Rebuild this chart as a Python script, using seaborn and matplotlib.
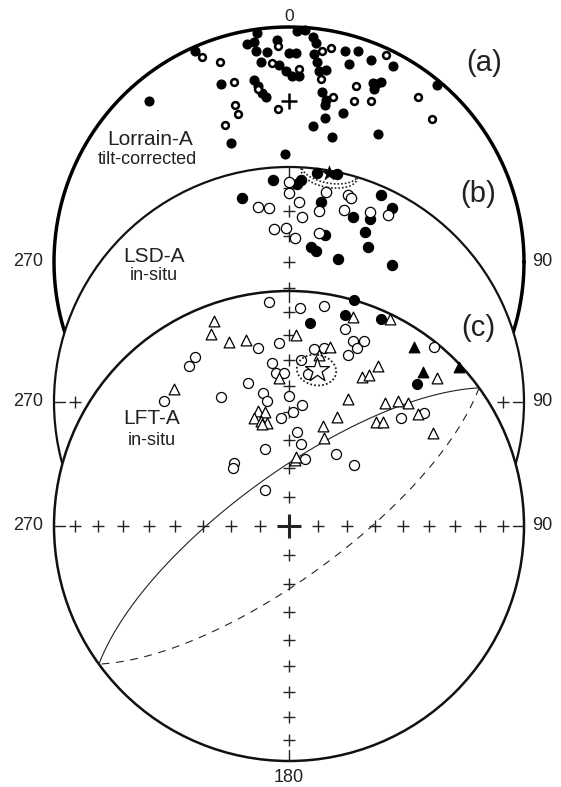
import numpy as np
import pandas as pd
import matplotlib
matplotlib.use("Agg")
import matplotlib.pyplot as plt
from matplotlib.patches import Circle
import seaborn as sns

sns.set_style("white")
plt.rcParams['font.family'] = ['Liberation Sans', 'DejaVu Sans']

# ---------------- data (declination, inclination; negative inc = upper hemisphere / open symbol)
# (a) Lorrain-A tilt-corrected
a_fill_dec = [336, 352, 349, 351, 351, 352, 354, 357, 357, 0, 2, 2, 4, 6, 7, 7, 359, 1, 3, 8, 11, 9,
              15, 18, 17, 22, 26, 26, 27, 25, 28, 339, 349, 350, 351, 352, 11, 13, 13, 20, 14, 10,
              19, 334, 358, 35, 40, 319]
a_fill_inc = [2, 2, 6, 6, 10, 15, 11, 6, 17, 12, 12, 2, 1, 4, 7, 12, 20, 22, 22, 15, 18, 19,
              8, 6, 13, 8, 17, 19, 15, 17, 6, 20, 22, 25, 28, 30, 27, 30, 32, 33, 37, 41,
              43, 43, 52, 34, 2, 10]
a_open_dec = [337, 341, 343, 341, 341, 335, 350, 355, 357, 3, 9, 11, 10, 15, 356, 25, 21, 22, 27, 38, 45]
a_open_inc = [-6, -11, -21, -30, -34, -36, -26, -16, -9, -19, -10, -8, -22, -28, -35, -3, -21, -27, -24, -12, -15]
a_mark_dec, a_mark_inc = [0], [32]

# (b) LSD-A in-situ
b_fill_dec = [356, 347, 3, 2, 7, 12, 9, 24, 28, 19, 24, 24, 12, 8, 10, 27, 19, 37]
b_fill_inc = [6, 12, 6, 8, 2, 1, 15, 4, 7, 18, 16, 22, 28, 34, 35, 27, 36, 28]
b_open_dec = [0, 0, 10, 16, 17, 351, 354, 3, 9, 4, 16, 23, 28, 355, 359, 2, 10]
b_open_inc = [-7, -12, -10, -9, -10, -17, -18, -16, -19, -22, -16, -13, -11, -27, -27, -31, -28]
b_mean_dec, b_mean_inc, b_a95 = 10, 1, 7

# (c) LFT-A in-situ
c_open_dec = [355, 3, 9, 350, 357, 331, 328, 354, 355, 358, 344, 332, 315, 349, 350, 0, 356, 2,
              343, 319, 316, 326, 16, 19, 21, 22, 19, 8, 11, 39, 7, 4, 6, 46, 50, 5, 8, 33, 13, 47]
c_open_inc = [-5, -8, -6, -24, -23, -19, -21, -31, -35, -35, -37, -38, -26, -42, -45, -44, -52, -50,
              -62, -61, -62, -75, -14, -18, -20, -16, -24, -25, -24, -2, -35, -30, -47, -34, -26, -57, -61, -60, -66, -59]
c_fill_dec = [16, 6, 15, 24, 42]
c_fill_inc = [0, 14, 8, 4, 20]
c_tri_fill_dec = [35, 41, 47]
c_tri_fill_inc = [8, 14, 1]
c_tri_open_dec = [340, 338, 342, 347, 320, 2, 356, 345, 348, 342, 345, 348, 345, 5, 17, 26, 13, 10,
                  29, 26, 28, 45, 25, 38, 41, 44, 24, 40, 42, 49, 57, 19, 22, 6]
c_tri_open_inc = [-8, -13, -19, -20, -25, -20, -37, -48, -49, -50, -52, -53, -53, -67, -8, -2, -23, -27,
                  -23, -30, -28, -12, -40, -34, -30, -28, -48, -42, -40, -28, -28, -53, -57, -66]
c_mean_dec, c_mean_inc, c_a95 = 10, -33, 6
c_plane_dipdir, c_plane_dip = 324, 72

tick_incs = [10, 20, 30, 40, 50, 60, 70, 80]

# ---------------- geometry helpers
W, H, RPX, CX, CY = 561, 787, 235.0, 289, 526
net_off = {'a': (526 - 262) / RPX, 'b': (526 - 402) / RPX, 'c': 0.0}


def P(x, y):
    return (x - CX) / RPX, (CY - y) / RPX


def proj(dec, inc, net):
    dec = np.radians(np.asarray(dec, float))
    inc = np.abs(np.asarray(inc, float))
    r = np.sqrt(2) * np.sin(np.radians(90 - inc) / 2)
    return r * np.sin(dec), r * np.cos(dec) + net_off[net]


def vec2di(v):
    dec = np.degrees(np.arctan2(v[:, 1], v[:, 0]))
    inc = np.degrees(np.arcsin(np.clip(v[:, 2], -1, 1)))
    return dec, inc


def cone(dec, inc, a, n=200):
    d, i, a = np.radians(dec), np.radians(inc), np.radians(a)
    m = np.array([np.cos(i) * np.cos(d), np.cos(i) * np.sin(d), np.sin(i)])
    u = np.array([-np.sin(i) * np.cos(d), -np.sin(i) * np.sin(d), np.cos(i)])
    w = np.cross(m, u)
    ph = np.linspace(0, 2 * np.pi, n)
    v = np.cos(a) * m + np.sin(a) * (np.outer(np.cos(ph), u) + np.outer(np.sin(ph), w))
    return vec2di(v)


def plane(dipdir, dip, n=300):
    dd, dp = np.radians(dipdir), np.radians(dip)
    s = np.array([np.cos(dd - np.pi / 2), np.sin(dd - np.pi / 2), 0.0])
    d = np.array([np.cos(dp) * np.cos(dd), np.cos(dp) * np.sin(dd), np.sin(dp)])
    t = np.linspace(0, np.pi, n)
    return np.outer(np.cos(t), s) + np.outer(np.sin(t), d)


def scatter(dec, inc, net, marker, s, face, lw, z):
    x, y = proj(dec, inc, net)
    df = pd.DataFrame({'x': x, 'y': y})
    sns.scatterplot(data=df, x='x', y='y', ax=ax, marker=marker, s=s, color=face,
                    edgecolor='black', linewidth=lw, zorder=z, legend=False)


def crosses(net, z):
    xs, ys = [], []
    for az in (0, 90, 180, 270):
        x, y = proj([az] * len(tick_incs), tick_incs, net)
        xs += list(x); ys += list(y)
    ax.plot(xs, ys, ls='none', marker='+', ms=8.5, mew=1.0, color='#222222', zorder=z)
    cx, cy = proj([0], [90], net)
    ax.plot(cx, cy, ls='none', marker='+', ms=17, mew=2.2, color='#222222', zorder=z)
    oy = net_off[net]
    for az in (0, 90, 180, 270):
        t = np.radians(az)
        ax.plot([0.955 * np.sin(t), 1.0 * np.sin(t)], [0.955 * np.cos(t) + oy, 1.0 * np.cos(t) + oy],
                color='#222222', lw=1.0, zorder=z)


fig = plt.figure(figsize=(W / 100, H / 100), dpi=100)
ax = fig.add_axes([0, 0, 1, 1])
ax.set_xlim(-CX / RPX, (W - CX) / RPX)
ax.set_ylim(-(H - CY) / RPX, CY / RPX)
ax.axis('off')

th = np.linspace(0, 2 * np.pi, 400)
txtc = '#222222'

# ---- (a)
ax.plot(np.cos(th), np.sin(th) + net_off['a'], color='black', lw=2.5, zorder=1)
scatter(a_fill_dec, a_fill_inc, 'a', 'o', 42, 'black', 0.8, 2)
scatter(a_open_dec, a_open_inc, 'a', 'o', 24, 'white', 1.8, 2)
mx, my = proj(a_mark_dec, a_mark_inc, 'a')
ax.plot(mx, my, ls='none', marker='+', ms=11, mew=1.8, color='black', zorder=2)

# ---- (b)
ax.add_patch(Circle((0, net_off['b']), 1.0, facecolor='white', edgecolor='#111111', lw=1.6, zorder=3))
crosses('b', 3.5)
scatter(b_fill_dec, b_fill_inc, 'b', 'o', 55, 'black', 0.8, 4)
scatter(b_open_dec, b_open_inc, 'b', 'o', 55, 'white', 0.9, 4)
cd, ci = cone(b_mean_dec, b_mean_inc, b_a95)
x, y = proj(cd, ci, 'b')
ax.plot(x, y, color='#222222', lw=1.2, ls=(0, (1, 1.2)), zorder=4.5)
scatter([b_mean_dec], [b_mean_inc], 'b', '*', 120, 'black', 0.5, 4.6)

# ---- (c)
ax.add_patch(Circle((0, 0), 1.0, facecolor='white', edgecolor='#111111', lw=1.8, zorder=5))
crosses('c', 5.5)
v = plane(c_plane_dipdir, c_plane_dip)
d1, i1 = vec2di(v)
x, y = proj(d1, i1, 'c')
ax.plot(x, y, color='#222222', lw=0.8, zorder=5.6)
d2, i2 = vec2di(-v)
x, y = proj(d2, i2, 'c')
ax.plot(x, y, color='#222222', lw=0.8, ls=(0, (7, 6)), zorder=5.6)
scatter(c_open_dec, c_open_inc, 'c', 'o', 52, 'white', 0.9, 6)
scatter(c_tri_open_dec, c_tri_open_inc, 'c', '^', 60, 'white', 0.9, 6)
scatter(c_fill_dec, c_fill_inc, 'c', 'o', 52, 'black', 0.8, 6)
scatter(c_tri_fill_dec, c_tri_fill_inc, 'c', '^', 60, 'black', 0.8, 6)
cd, ci = cone(c_mean_dec, c_mean_inc, c_a95)
x, y = proj(cd, ci, 'c')
ax.plot(x, y, color='#222222', lw=1.3, ls=(0, (1, 1.2)), zorder=6.5)
scatter([c_mean_dec], [c_mean_inc], 'c', '*', 330, 'white', 0.9, 6.6)


# ---- labels
def T(x, y, s, size, **kw):
    ax.text(*P(x, y), s, fontsize=size, color=txtc, ha='center', va='center', zorder=10, **kw)


T(289, 17, '0', 12.5)
T(289, 778, '180', 13)
for yc in (262, 402, 526):
    T(28, yc, '270', 13)
    T(542, yc, '90', 13)
T(484, 63, '(a)', 21)
T(478, 194, '(b)', 21)
T(478, 328, '(c)', 21)
T(150, 140, 'Lorrain-A', 15)
T(147, 159, 'tilt-corrected', 13)
T(154, 257, 'LSD-A', 15)
T(154, 276, 'in-situ', 13)
T(152, 419, 'LFT-A', 15)
T(152, 441, 'in-situ', 13)

fig.savefig('out.png', dpi=100, facecolor='white')
